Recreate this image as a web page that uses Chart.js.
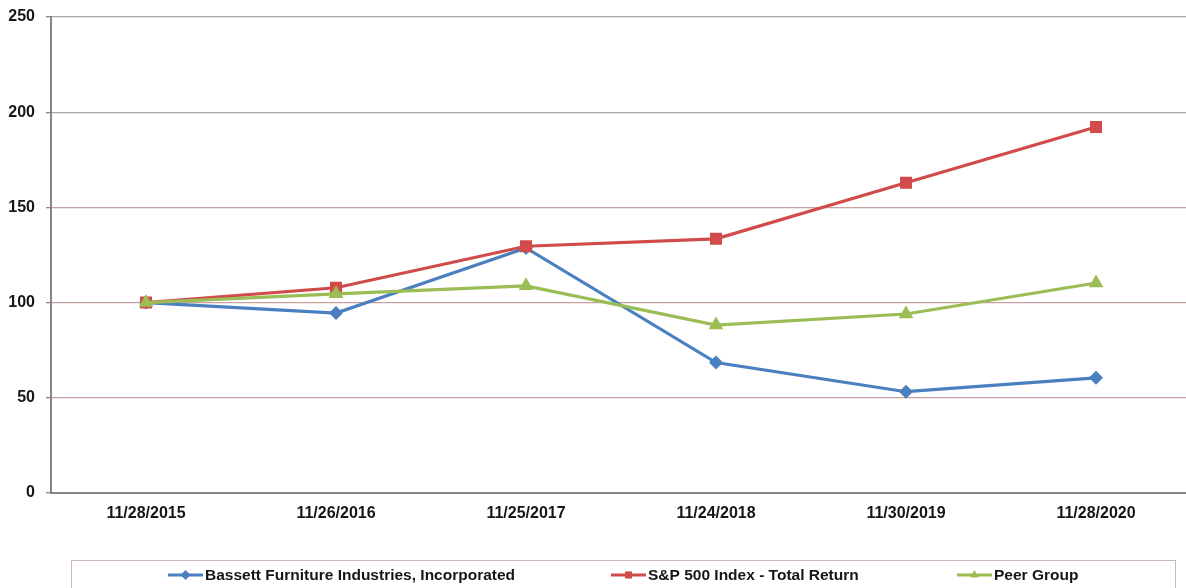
<!DOCTYPE html>
<html>
<head>
<meta charset="utf-8">
<script src="https://cdn.jsdelivr.net/npm/chart.js@4.4.1/dist/chart.umd.min.js"></script>
<style>
  html, body { margin: 0; padding: 0; background: #fff; overflow: hidden; }
  canvas { display: block; }
</style>
</head>
<body>
<canvas id="perfChart" width="1200" height="588"></canvas>
<script>
const dates = ['11/28/2015', '11/26/2016', '11/25/2017', '11/24/2018', '11/30/2019', '11/28/2020']
const bassett = [100, 94.5, 128.7, 68.5, 53.2, 60.5]
const sp500 = [100, 107.8, 129.6, 133.5, 162.9, 192.2]
const peerGroup = [100, 104.6, 108.8, 88.2, 94.0, 110.3]
const yTicks = [0, 50, 100, 150, 200, 250]

const seriesNames = ['Bassett Furniture Industries, Incorporated', 'S&P 500 Index - Total Return', 'Peer Group']
const legendStarts = [168, 611, 957]

const textColor = '#161616'
const axisColor = '#858585'

// legend drawn by hand, boxed like the original
const boxLegend = {
    id: 'boxLegend',
    afterDraw(chart) {
        const { ctx } = chart
        ctx.save()
        ctx.strokeStyle = '#cdb8b8'
        ctx.lineWidth = 1
        ctx.strokeRect(71.5, 560.5, 1104, 60)

        ctx.font = 'bold 15.5px "Liberation Sans", Arial, sans-serif'
        ctx.textBaseline = 'middle'
        const y = 575
        chart.data.datasets.forEach((ds, i) => {
            const x0 = legendStarts[i]
            ctx.strokeStyle = ds.borderColor
            ctx.lineWidth = 3
            ctx.beginPath()
            ctx.moveTo(x0, y)
            ctx.lineTo(x0 + 35, y)
            ctx.stroke()
            ctx.fillStyle = ds.borderColor
            Chart.helpers.drawPoint(ctx, { pointStyle: ds.pointStyle, radius: 5, borderWidth: 0 }, x0 + 17.5, y)
            ctx.fillStyle = textColor
            ctx.fillText(seriesNames[i], x0 + 37, y + 1)
        })
        ctx.restore()
    }
}

const blue = '#4a7fc0'
const red = '#d04b49'
const green = '#9bbd55'

new Chart(document.getElementById('perfChart'), {
    type: 'line',
    data: {
        labels: dates,
        datasets: [
            {
                label: seriesNames[0],
                data: bassett,
                borderColor: blue,
                backgroundColor: blue,
                borderWidth: 3.2,
                pointStyle: 'rectRot',
                pointRadius: 7,
                pointBorderWidth: 0,
                order: 3
            },
            {
                label: seriesNames[1],
                data: sp500,
                borderColor: red,
                backgroundColor: red,
                borderWidth: 3.2,
                pointStyle: 'rect',
                pointRadius: 8.5,
                pointBorderWidth: 0,
                order: 2
            },
            {
                label: seriesNames[2],
                data: peerGroup,
                borderColor: green,
                backgroundColor: green,
                borderWidth: 3.2,
                pointStyle: 'triangle',
                pointRadius: 8.5,
                pointBorderWidth: 0,
                order: 1
            }
        ]
    },
    plugins: [boxLegend],
    options: {
        responsive: false,
        animation: false,
        layout: { padding: { top: 17, right: 9, left: 0, bottom: 0 } },
        plugins: {
            legend: { display: false },
            tooltip: { enabled: false }
        },
        scales: {
            x: {
                offset: true,
                grid: { display: false, drawTicks: false },
                border: { display: true, color: axisColor, width: 2 },
                ticks: {
                    color: textColor,
                    padding: 11,
                    maxRotation: 0,
                    autoSkip: false,
                    font: { family: '"Liberation Sans", Arial, sans-serif', size: 16, weight: 'bold' }
                },
                afterFit(scale) { scale.height = 95 }
            },
            y: {
                min: 0,
                max: 250,
                afterBuildTicks(scale) { scale.ticks = yTicks.map(v => ({ value: v })) },
                grid: {
                    color: c => (yTicks[c.index] >= 200) ? '#a3a3a3' : '#c9a0a0',
                    lineWidth: 1.3,
                    tickLength: 5,
                    tickColor: axisColor
                },
                border: { display: true, color: axisColor, width: 2 },
                ticks: {
                    color: textColor,
                    padding: 11,
                    font: { family: '"Liberation Sans", Arial, sans-serif', size: 16, weight: 'bold' }
                },
                afterFit(scale) {
                    scale.width = 51
                    scale.paddingTop = 0
                    scale.paddingBottom = 0
                }
            }
        }
    }
})
</script>
</body>
</html>
